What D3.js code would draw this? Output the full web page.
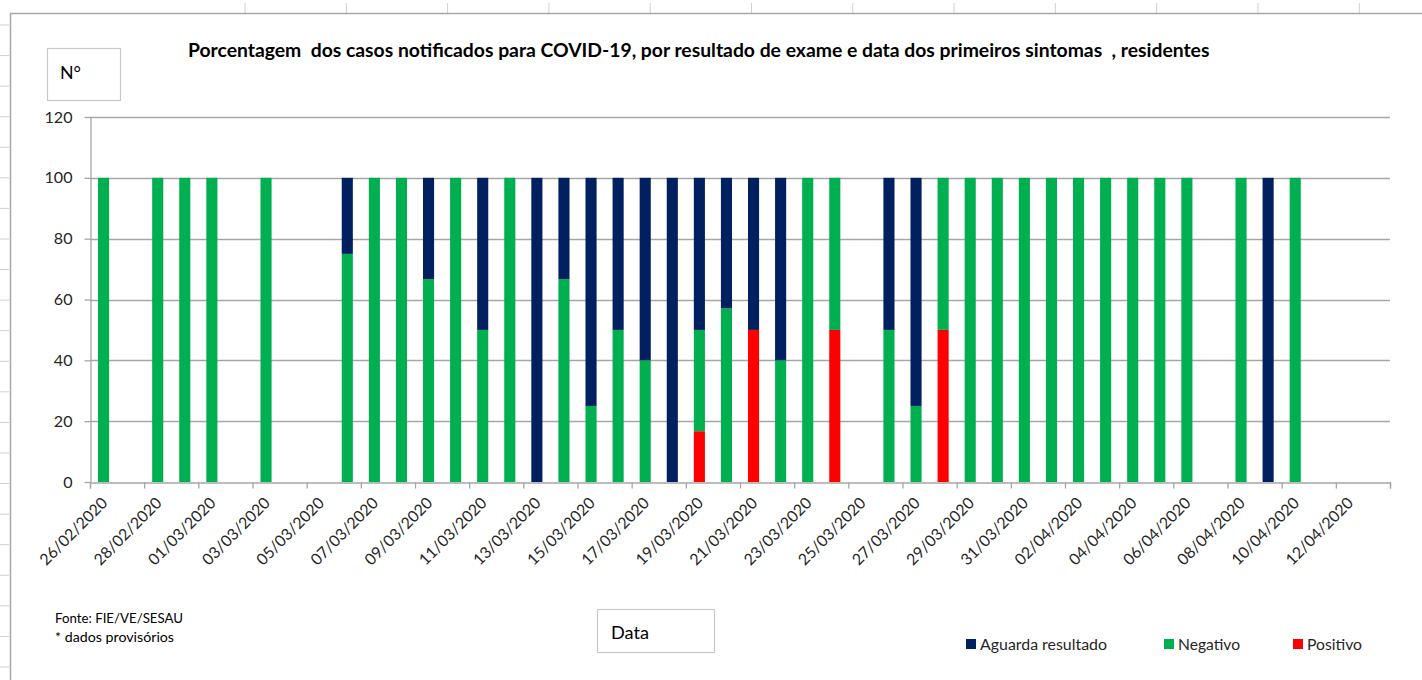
<!DOCTYPE html>
<html>
<head>
<meta charset="utf-8">
<script src="https://cdnjs.cloudflare.com/ajax/libs/d3/7.8.5/d3.min.js"></script>
<style>
  html, body { margin: 0; padding: 0; background: #ffffff; }
  svg { display: block; }
  text { font-family: Lato, "Open Sans", "DejaVu Sans", sans-serif; }
</style>
</head>
<body>
<svg id="chart" width="1422" height="680"></svg>
<script>
// ---------------- data ----------------
const dates = [
  "26/02/2020","27/02/2020","28/02/2020","29/02/2020","01/03/2020","02/03/2020","03/03/2020","04/03/2020",
  "05/03/2020","06/03/2020","07/03/2020","08/03/2020","09/03/2020","10/03/2020","11/03/2020","12/03/2020",
  "13/03/2020","14/03/2020","15/03/2020","16/03/2020","17/03/2020","18/03/2020","19/03/2020","20/03/2020",
  "21/03/2020","22/03/2020","23/03/2020","24/03/2020","25/03/2020","26/03/2020","27/03/2020","28/03/2020",
  "29/03/2020","30/03/2020","31/03/2020","01/04/2020","02/04/2020","03/04/2020","04/04/2020","05/04/2020",
  "06/04/2020","07/04/2020","08/04/2020","09/04/2020","10/04/2020","11/04/2020","12/04/2020","13/04/2020"
];
// Percent of cases by exam result
const positivo = [
  0,0,0,0,0,0,0,0,
  0,0,0,0,0,0,0,0,
  0,0,0,0,0,0,16.7,0,
  50,0,0,50,0,0,0,50,
  0,0,0,0,0,0,0,0,
  0,0,0,0,0,0,0,0
];
const negativo = [
  100,0,100,100,100,0,100,0,
  0,75,100,100,66.7,100,50,100,
  0,66.7,25,50,40,0,33.3,57.1,
  0,40,100,50,0,50,25,50,
  100,100,100,100,100,100,100,100,
  100,0,100,0,100,0,0,0
];
const aguarda = [
  0,0,0,0,0,0,0,0,
  0,25,0,0,33.3,0,50,0,
  100,33.3,75,50,60,100,50,42.9,
  50,60,0,0,0,50,75,0,
  0,0,0,0,0,0,0,0,
  0,0,0,100,0,0,0,0
];
const tickLabels = [
  "26/02/2020","28/02/2020","01/03/2020","03/03/2020","05/03/2020","07/03/2020","09/03/2020","11/03/2020",
  "13/03/2020","15/03/2020","17/03/2020","19/03/2020","21/03/2020","23/03/2020","25/03/2020","27/03/2020",
  "29/03/2020","31/03/2020","02/04/2020","04/04/2020","06/04/2020","08/04/2020","10/04/2020","12/04/2020"
];
const yTicks = [0, 20, 40, 60, 80, 100, 120];
const seriesKeys = ["Positivo", "Negativo", "Aguarda resultado"];
const legendOrder = ["Aguarda resultado", "Negativo", "Positivo"];
const colors = { "Aguarda resultado": "#002060", "Negativo": "#00B050", "Positivo": "#FF0000" };

const titleText = "Porcentagem  dos casos notificados para COVID-19, por resultado de exame e data dos primeiros sintomas  , residentes";

// ---------------- layout ----------------
const svg = d3.select("#chart");
const plot = { left: 90, right: 1390, top: 117, bottom: 482 };

// helper: fit font size so text has a given width
function fitWidth(sel, target) {
  const node = sel.node();
  const fs = parseFloat(sel.attr("font-size"));
  const w = node.getComputedTextLength();
  if (w > 0) sel.attr("font-size", (fs * target / w).toFixed(2));
  return sel;
}

// spreadsheet background lines (outside the chart frame)
const colX = d3.range(12).map(i => 245 + i * 101.3);
svg.append("g").selectAll("line").data(colX).join("line")
  .attr("x1", d => d).attr("x2", d => d).attr("y1", 3).attr("y2", 13)
  .attr("stroke", "#d0d0d0").attr("stroke-width", 1);
const rowY = d3.range(22).map(i => 25 + i * 30.57);
svg.append("g").selectAll("line").data(rowY).join("line")
  .attr("x1", 0).attr("x2", 9).attr("y1", d => d).attr("y2", d => d)
  .attr("stroke", "#d0d0d0").attr("stroke-width", 1);

// chart frame
svg.append("path")
  .attr("d", "M10.5,680 L10.5,13.5 L1422,13.5")
  .attr("fill", "none").attr("stroke", "#a6a6a6").attr("stroke-width", 1.5);

// scales
const x = d3.scaleBand().domain(dates).range([plot.left, plot.right])
  .paddingInner(0.59).paddingOuter(0.295);
const xEdge = d3.scaleLinear().domain([0, dates.length]).range([plot.left, plot.right]);
const y = d3.scaleLinear().domain([0, 120]).range([plot.bottom, plot.top]);

// gridlines
svg.append("g").selectAll("line").data(yTicks.filter(d => d > 0)).join("line")
  .attr("x1", plot.left).attr("x2", plot.right)
  .attr("y1", d => Math.round(y(d)) + 0.5).attr("y2", d => Math.round(y(d)) + 0.5)
  .attr("stroke", "#a6a6a6").attr("stroke-width", 1.3);

// stacked bars
const table = dates.map((d, i) => ({
  date: d,
  "Positivo": positivo[i],
  "Negativo": negativo[i],
  "Aguarda resultado": aguarda[i]
}));
const stacked = d3.stack().keys(seriesKeys)(table);
svg.append("g").selectAll("g").data(stacked).join("g")
  .attr("fill", s => colors[s.key])
  .selectAll("rect").data(s => s.filter(p => p[1] - p[0] > 0)).join("rect")
  .attr("x", p => x(p.data.date))
  .attr("width", x.bandwidth())
  .attr("y", p => y(p[1]))
  .attr("height", p => y(p[0]) - y(p[1]));

// y axis
const yAxis = svg.append("g")
  .attr("transform", `translate(${plot.left + 0.5},0)`)
  .call(d3.axisLeft(y).tickValues(yTicks).tickSize(6).tickPadding(12).tickSizeOuter(0));
yAxis.select(".domain").attr("stroke", "#a6a6a6").attr("stroke-width", 1.3);
yAxis.selectAll(".tick line").attr("stroke", "#a6a6a6").attr("stroke-width", 1.3);
yAxis.selectAll(".tick text").attr("font-size", 16).attr("fill", "#262626");
{
  const t100 = yAxis.selectAll(".tick text").filter(d => d === 100);
  fitWidth(t100, 28);
  yAxis.selectAll(".tick text").attr("font-size", t100.attr("font-size"));
}

// x axis: boundary ticks every 2 days
const xAxisTicks = svg.append("g")
  .attr("transform", `translate(0,${plot.bottom + 0.5})`)
  .call(d3.axisBottom(xEdge).tickValues(d3.range(0, dates.length + 1, 2)).tickSize(6).tickFormat(""));
xAxisTicks.select(".domain").attr("stroke", "#a6a6a6").attr("stroke-width", 1.3);
xAxisTicks.selectAll(".tick line").attr("stroke", "#a6a6a6").attr("stroke-width", 1.3);

// x axis labels (rotated)
const xLab = svg.append("g")
  .attr("transform", `translate(0,${plot.bottom})`)
  .call(d3.axisBottom(x).tickValues(tickLabels).tickSize(0));
xLab.select(".domain").remove();
xLab.selectAll(".tick text")
  .attr("font-size", 15).attr("fill", "#262626")
  .attr("text-anchor", "end")
  .attr("dy", 0).attr("y", 0)
  .attr("transform", "translate(5,22) rotate(-45)");
{
  const first = xLab.selectAll(".tick text").filter((d, i) => i === 0);
  fitWidth(first, 88);
  xLab.selectAll(".tick text").attr("font-size", first.attr("font-size"));
}

// title
const title = svg.append("text")
  .attr("x", 188).attr("y", 57)
  .attr("font-size", 17).attr("font-weight", "bold").attr("fill", "#000")
  .style("white-space", "pre").attr("xml:space", "preserve")
  .text(titleText);
fitWidth(title, 1022);

// N° box
svg.append("rect").attr("x", 47.5).attr("y", 48.5).attr("width", 73).attr("height", 52)
  .attr("fill", "#fff").attr("stroke", "#c8c8c8").attr("stroke-width", 1.2);
fitWidth(svg.append("text").attr("x", 60).attr("y", 79).attr("font-size", 19)
  .attr("fill", "#000").text("N°"), 21);

// source notes
fitWidth(svg.append("text").attr("x", 55).attr("y", 623).attr("font-size", 12)
  .attr("fill", "#000").text("Fonte: FIE/VE/SESAU"), 128);
fitWidth(svg.append("text").attr("x", 55).attr("y", 642).attr("font-size", 12)
  .attr("fill", "#000").text("* dados provisórios"), 119);

// Data box
svg.append("rect").attr("x", 597.5).attr("y", 609.5).attr("width", 117).attr("height", 43)
  .attr("fill", "#fff").attr("stroke", "#c8c8c8").attr("stroke-width", 1.2);
fitWidth(svg.append("text").attr("x", 611).attr("y", 639).attr("font-size", 18)
  .attr("fill", "#000").text("Data"), 38);

// legend
const legendPos = { "Aguarda resultado": 966, "Negativo": 1164, "Positivo": 1293 };
const legendW = { "Aguarda resultado": 127, "Negativo": 62, "Positivo": 55 };
const lg = svg.append("g");
legendOrder.forEach(k => {
  lg.append("rect").attr("x", legendPos[k]).attr("y", 639).attr("width", 10).attr("height", 10)
    .attr("fill", colors[k]);
  fitWidth(lg.append("text").attr("x", legendPos[k] + 14).attr("y", 650).attr("font-size", 15)
    .attr("fill", "#262626").text(k), legendW[k]);
});
</script>
</body>
</html>
